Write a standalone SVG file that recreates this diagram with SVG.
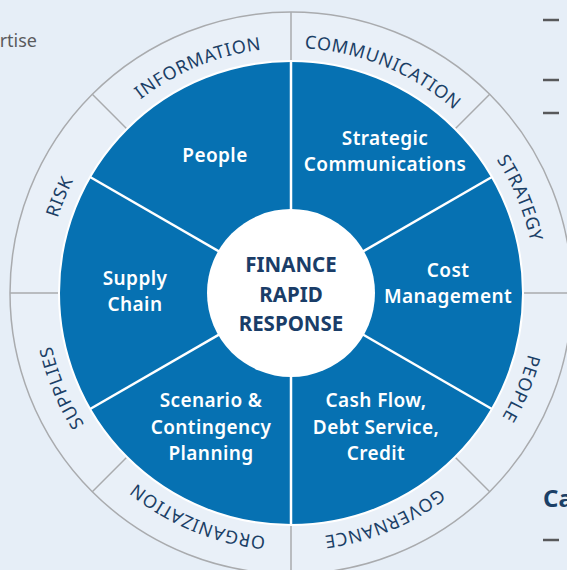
<svg xmlns="http://www.w3.org/2000/svg" xmlns:xlink="http://www.w3.org/1999/xlink" width="567" height="570" viewBox="0 0 567 570">
  <style>
    .ring { fill: #e9f0f8; stroke: #a9abae; stroke-width: 1.5; }
    .tick { stroke: #a9abae; stroke-width: 1.5; }
    .spoke { stroke: #ffffff; stroke-width: 2.5; }
    .ringlabel { font-family: "Noto Sans", "Open Sans", sans-serif; font-size: 18px; letter-spacing: 0.7px; fill: #1b3f66; text-anchor: middle; }
    .sector { font-family: "Noto Sans", "Open Sans", sans-serif; font-size: 19px; font-weight: 600; letter-spacing: 0.4px; fill: #ffffff; text-anchor: middle; }
    .hub { font-family: "Noto Sans", "Open Sans", sans-serif; font-size: 20.5px; font-weight: 700; fill: #1a3d68; text-anchor: middle; }
    .dash { stroke: #58595b; stroke-width: 2.5; }
  </style>
  <defs>
    <!-- clockwise circle starting at the top, used for the ring captions -->
    <path id="labelArc" d="M 291 48 A 245 245 0 1 1 291 538 A 245 245 0 1 1 291 48" fill="none"/>
  </defs>

  <rect width="567" height="570" fill="#e6eef7"/>

  <!-- page fragments around the wheel -->
  <text x="37" y="47" font-family="Noto Sans, Open Sans, sans-serif" font-size="18" fill="#5a5b5d" text-anchor="end">rtise</text>
  <line class="dash" x1="543" y1="20" x2="559" y2="20"/>
  <line class="dash" x1="543" y1="80" x2="559" y2="80"/>
  <line class="dash" x1="543" y1="113" x2="559" y2="113"/>
  <line class="dash" x1="543" y1="540" x2="559" y2="540"/>
  <text x="543" y="507" font-family="Noto Sans, Open Sans, sans-serif" font-size="24" font-weight="700" fill="#1b3f66">Ca</text>

  <!-- outer ring with its eight divisions -->
  <g id="outer-ring">
    <circle class="ring" cx="291" cy="293" r="281"/>
    <line class="tick" x1="291" y1="12" x2="291" y2="61"/>
    <line class="tick" x1="489.7" y1="94.3" x2="455" y2="129"/>
    <line class="tick" x1="572" y1="293" x2="523" y2="293"/>
    <line class="tick" x1="489.7" y1="491.7" x2="455" y2="457"/>
    <line class="tick" x1="291" y1="574" x2="291" y2="525"/>
    <line class="tick" x1="92.3" y1="491.7" x2="127" y2="457"/>
    <line class="tick" x1="10" y1="293" x2="59" y2="293"/>
    <line class="tick" x1="92.3" y1="94.3" x2="127" y2="129"/>
  </g>

  <g id="ring-labels">
    <text class="ringlabel"><textPath xlink:href="#labelArc" href="#labelArc" startOffset="96.2">COMMUNICATION</textPath></text>
    <text class="ringlabel"><textPath xlink:href="#labelArc" href="#labelArc" startOffset="288.6">STRATEGY</textPath></text>
    <text class="ringlabel"><textPath xlink:href="#labelArc" href="#labelArc" startOffset="481.1">PEOPLE</textPath></text>
    <text class="ringlabel"><textPath xlink:href="#labelArc" href="#labelArc" startOffset="673.5">GOVERNANCE</textPath></text>
    <text class="ringlabel"><textPath xlink:href="#labelArc" href="#labelArc" startOffset="865.9">ORGANIZATION</textPath></text>
    <text class="ringlabel"><textPath xlink:href="#labelArc" href="#labelArc" startOffset="1058.3">SUPPLIES</textPath></text>
    <text class="ringlabel"><textPath xlink:href="#labelArc" href="#labelArc" startOffset="1250.7">RISK</textPath></text>
    <text class="ringlabel"><textPath xlink:href="#labelArc" href="#labelArc" startOffset="1443.2">INFORMATION</textPath></text>
  </g>

  <!-- blue disc split into six sectors -->
  <g id="disc">
    <circle cx="291" cy="293" r="232" fill="#0671b2" stroke="#ffffff" stroke-width="2"/>
  </g>
  <g id="connectors">
    <line class="spoke" x1="291" y1="293" x2="291" y2="61"/>
    <line class="spoke" x1="291" y1="293" x2="491.9" y2="177"/>
    <line class="spoke" x1="291" y1="293" x2="491.9" y2="409"/>
    <line class="spoke" x1="291" y1="293" x2="291" y2="525"/>
    <line class="spoke" x1="291" y1="293" x2="90.1" y2="409"/>
    <line class="spoke" x1="291" y1="293" x2="90.1" y2="177"/>
  </g>

  <g id="people"><text class="sector" x="215" y="162">People</text></g>
  <g id="strategic-communications">
    <text class="sector" x="385" y="145">Strategic</text>
    <text class="sector" x="385" y="171">Communications</text>
  </g>
  <g id="cost-management">
    <text class="sector" x="448" y="277">Cost</text>
    <text class="sector" x="448" y="303">Management</text>
  </g>
  <g id="cash-flow">
    <text class="sector" x="376" y="407">Cash Flow,</text>
    <text class="sector" x="376" y="434">Debt Service,</text>
    <text class="sector" x="376" y="460">Credit</text>
  </g>
  <g id="scenario-planning">
    <text class="sector" x="211" y="407">Scenario &amp;</text>
    <text class="sector" x="211" y="434">Contingency</text>
    <text class="sector" x="211" y="460">Planning</text>
  </g>
  <g id="supply-chain">
    <text class="sector" x="135" y="285">Supply</text>
    <text class="sector" x="135" y="311">Chain</text>
  </g>

  <g id="hub">
    <circle cx="291" cy="293" r="84" fill="#ffffff"/>
    <text class="hub" x="291" y="272">FINANCE</text>
    <text class="hub" x="291" y="302">RAPID</text>
    <text class="hub" x="291" y="331">RESPONSE</text>
  </g>
</svg>
